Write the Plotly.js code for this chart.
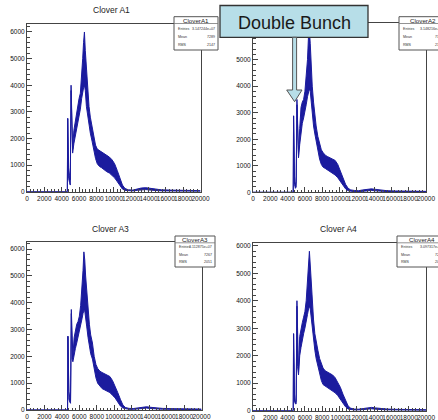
<!DOCTYPE html>
<html>
<head>
<meta charset="utf-8">
<script src="https://cdn.plot.ly/plotly-3.0.1.min.js"></script>
<style>html,body{margin:0;padding:0;background:#fff;}#chart{width:438px;height:420px;}</style>
</head>
<body>
<div id="chart"></div>
<script>
// ---- data ----
const channelX = [0, 4650, 4690, 4740, 4800, 4900, 4990, 5080, 5160, 5260,
  5400, 5550, 5700, 5850, 6000, 6150, 6300, 6420, 6520, 6620,
  6720, 6850, 7000, 7150, 7300, 7500, 7700, 7900, 8100, 8350,
  8600, 8900, 9200, 9500, 9800, 10100, 10400, 10700, 11000, 11300,
  11700, 12200, 12700, 13200, 13700, 14200, 14700, 15500, 16500, 17500,
  18500, 19500, 20000];

const a1Upper = [0, 0, 2750, 1300, 900, 600, 450, 4000, 2300, 1600,
  2300, 2600, 2950, 3300, 3500, 3700, 4300, 5000, 5600, 6000,
  5300, 4600, 3800, 3200, 2800, 2400, 2000, 1750, 1600, 1550,
  1500, 1420, 1350, 1300, 1200, 1050, 800, 500, 250, 120,
  70, 60, 100, 140, 150, 120, 90, 70, 60, 50, 45, 40, 40];
const a1Lower = [0, 0, 2750, 700, 500, 350, 250, 3800, 1900, 1450,
  1800, 2050, 2350, 2650, 2900, 3100, 3500, 3800, 3900, 4000,
  3800, 3200, 2800, 2500, 2200, 1900, 1500, 1250, 1050, 950,
  900, 820, 750, 700, 620, 520, 380, 220, 100, 50,
  30, 25, 50, 70, 80, 60, 45, 30, 25, 20, 15, 15, 15];

const a2Upper = [0, 0, 2880, 1000, 600, 250, 400, 3500, 2000, 1400,
  2400, 3200, 3400, 3500, 3800, 4300, 5000, 5900, 6100, 5600,
  4800, 4000, 3400, 2900, 2500, 2100, 1800, 1600, 1500, 1400,
  1350, 1300, 1250, 1200, 1050, 800, 550, 300, 150, 90,
  70, 60, 90, 120, 130, 110, 80, 60, 50, 45, 40, 35, 35];
const a2Lower = [0, 0, 2880, 500, 300, 150, 200, 3300, 1700, 1300,
  1800, 2300, 2600, 2800, 3000, 3300, 3600, 3800, 3900, 3800,
  3400, 2900, 2500, 2200, 1900, 1500, 1250, 1050, 950, 900,
  850, 800, 720, 650, 550, 400, 250, 130, 60, 40,
  25, 25, 40, 60, 70, 55, 40, 30, 25, 20, 15, 15, 15];

const a3Upper = [0, 0, 2750, 1200, 700, 450, 350, 3750, 2300, 2000,
  2700, 3000, 3200, 3300, 3500, 3900, 4500, 5200, 5900, 5600,
  5000, 4400, 3700, 3200, 2800, 2500, 2000, 1700, 1550, 1450,
  1400, 1350, 1300, 1250, 1100, 900, 650, 400, 180, 90,
  60, 55, 80, 110, 120, 100, 80, 60, 50, 45, 40, 35, 35];
const a3Lower = [0, 0, 2750, 600, 400, 300, 250, 3600, 1900, 1800,
  2100, 2300, 2500, 2700, 2900, 3100, 3400, 3600, 3700, 3700,
  3500, 3100, 2700, 2400, 2100, 1900, 1500, 1200, 1000, 900,
  800, 750, 700, 650, 550, 450, 300, 150, 70, 40,
  25, 25, 40, 60, 70, 55, 40, 30, 25, 20, 15, 15, 15];

const a4Upper = [0, 0, 2800, 1100, 600, 300, 350, 4000, 2000, 1400,
  2700, 3000, 3200, 3400, 3600, 4000, 4600, 5300, 5800, 5300,
  4700, 4000, 3300, 2800, 2500, 2200, 1900, 1700, 1550, 1450,
  1400, 1350, 1300, 1200, 1050, 850, 600, 350, 170, 90,
  60, 55, 80, 110, 120, 100, 80, 60, 50, 45, 40, 35, 35];
const a4Lower = [0, 0, 2800, 500, 350, 250, 250, 3800, 1600, 1300,
  2000, 2300, 2600, 2800, 3000, 3200, 3500, 3700, 3800, 3700,
  3400, 2900, 2500, 2200, 1900, 1600, 1300, 1100, 950, 900,
  850, 800, 720, 650, 550, 420, 280, 140, 60, 40,
  25, 25, 40, 60, 70, 55, 40, 30, 25, 20, 15, 15, 15];

const panelTitles = ['Clover A1', 'Clover A2', 'Clover A3', 'Clover A4'];
const statNames = ['CloverA1', 'CloverA2', 'CloverA3', 'CloverA4'];
const statLabels = ['Entries', 'Mean', 'RMS'];
const statEntries = ['3.147244e+07', '3.148216e+07', '3.112875e+07', '3.097317e+07'];
const statMeans = ['7289', '7303', '7267', '7295'];
const statRMS = ['2147', '2148', '2051', '2046'];
const xTickVals = [0, 2000, 4000, 6000, 8000, 10000, 12000, 14000, 16000, 18000, 20000];
const yTickVals = [0, 1000, 2000, 3000, 4000, 5000, 6000];
const calloutText = 'Double Bunch';

// ---- layout geometry (pixels) ----
const W = 438, H = 420;
const px = x => x / W;
const py = y => 1 - y / H;
const frames = [
  {l: 27, r: 200.5, t: 24, b: 191.7, ymax: 6300},
  {l: 253, r: 426, t: 23.3, b: 192.3, ymax: 6370},
  {l: 27, r: 201.5, t: 241.5, b: 410, ymax: 6287},
  {l: 253, r: 426, t: 243, b: 410.7, ymax: 6100}
];
const statBoxes = [
  {l: 174, r: 218, t: 16.7, b: 50},
  {l: 399, r: 446, t: 16.7, b: 50},
  {l: 175, r: 215, t: 236, b: 267},
  {l: 397, r: 446, t: 236, b: 267}
];
const titlePos = [[111, 10], [322, 10], [110, 229], [338, 229]];

const uppers = [a1Upper, a2Upper, a3Upper, a4Upper];
const lowers = [a1Lower, a2Lower, a3Lower, a4Lower];
const blue = '#1b1b9e';
const font = 'Liberation Sans, Arial, Helvetica, sans-serif';

const data = [];
const layout = {
  width: W, height: H,
  margin: {l: 0, r: 0, t: 0, b: 0},
  paper_bgcolor: '#ffffff', plot_bgcolor: '#ffffff',
  showlegend: false,
  font: {family: font, color: '#111'},
  shapes: [], annotations: []
};

frames.forEach((f, i) => {
  const s = i === 0 ? '' : String(i + 1);
  data.push({x: channelX, y: lowers[i], xaxis: 'x' + s, yaxis: 'y' + s, mode: 'lines',
    line: {color: blue, width: 1}, hoverinfo: 'skip', type: 'scatter'});
  data.push({x: channelX, y: uppers[i], xaxis: 'x' + s, yaxis: 'y' + s, mode: 'lines',
    fill: 'tonexty', fillcolor: blue, line: {color: blue, width: 1}, hoverinfo: 'skip', type: 'scatter'});
  layout['xaxis' + s] = {
    domain: [px(f.l), px(f.r)], anchor: 'y' + s, range: [0, 20000],
    showline: true, mirror: true, linecolor: '#444', linewidth: 1,
    showgrid: false, zeroline: false,
    tickmode: 'array', tickvals: xTickVals, ticktext: xTickVals.map(String),
    ticks: 'inside', ticklen: 5, tickcolor: '#444', tickwidth: 1, tickangle: 0,
    tickfont: {size: 6.5, family: font, color: '#111'},
    minor: {dtick: 400, ticks: 'inside', ticklen: 2.5, tickcolor: '#444', showgrid: false}
  };
  layout['yaxis' + s] = {
    domain: [py(f.b), py(f.t)], anchor: 'x' + s, range: [0, f.ymax],
    showline: true, mirror: true, linecolor: '#444', linewidth: 1,
    showgrid: false, zeroline: false,
    tickmode: 'array', tickvals: yTickVals, ticktext: yTickVals.map(String),
    ticks: 'inside', ticklen: 5, tickcolor: '#444', tickwidth: 1,
    tickfont: {size: 6.5, family: font, color: '#111'},
    minor: {dtick: 200, ticks: 'inside', ticklen: 2.5, tickcolor: '#444', showgrid: false}
  };
  if (i !== 1) {
    layout.annotations.push({xref: 'paper', yref: 'paper', x: px(titlePos[i][0]), y: py(titlePos[i][1]),
      text: panelTitles[i], showarrow: false, xanchor: 'center', yanchor: 'middle',
      font: {size: 8.5, family: font, color: '#222'}});
  }
  // stats box
  const b = statBoxes[i];
  layout.shapes.push({type: 'rect', xref: 'paper', yref: 'paper', x0: px(b.l), x1: px(b.r), y0: py(b.b), y1: py(b.t),
    fillcolor: '#ffffff', line: {color: '#555', width: 1}, layer: 'above'});
  layout.shapes.push({type: 'line', xref: 'paper', yref: 'paper', x0: px(b.l), x1: px(b.r), y0: py(b.t + 6.8), y1: py(b.t + 6.8),
    line: {color: '#777', width: 0.8}, layer: 'above'});
  const cx = (b.l + Math.min(b.r, 440)) / 2;
  layout.annotations.push({xref: 'paper', yref: 'paper', x: px((b.l + b.r) / 2), y: py(b.t + 3.6), text: statNames[i],
    showarrow: false, xanchor: 'center', yanchor: 'middle', font: {size: 6.2, family: font, color: '#222'}});
  const vals = [statEntries[i], statMeans[i], statRMS[i]];
  const rowY = [12.3, 20, 28.3];
  statLabels.forEach((lab, k) => {
    layout.annotations.push({xref: 'paper', yref: 'paper', x: px(b.l + 1.5), y: py(b.t + rowY[k] * (b.b - b.t) / 33.3),
      text: lab, showarrow: false, xanchor: 'left', yanchor: 'middle', font: {size: 3.6, family: font, color: '#333'}});
    layout.annotations.push({xref: 'paper', yref: 'paper', x: px(b.r - 1.5), y: py(b.t + rowY[k] * (b.b - b.t) / 33.3),
      text: vals[k], showarrow: false, xanchor: 'right', yanchor: 'middle', font: {size: 3.6, family: font, color: '#333'}});
  });
});

// ---- callout "Double Bunch" ----
const cyan = '#b7dee8';
layout.shapes.push({type: 'rect', xref: 'paper', yref: 'paper', x0: px(220), x1: px(368), y0: py(37.3), y1: py(5.5),
  fillcolor: cyan, line: {color: '#333', width: 1.3}, layer: 'above'});
const arrowPts = [[292.6, 37.3], [292.6, 90], [286.7, 90], [294.6, 101.7], [302, 90], [296.6, 90], [296.6, 37.3]];
layout.shapes.push({type: 'path', xref: 'paper', yref: 'paper',
  path: 'M ' + arrowPts.map(p => px(p[0]).toFixed(5) + ',' + py(p[1]).toFixed(5)).join(' L ') + ' Z',
  fillcolor: cyan, line: {color: '#555', width: 1}, layer: 'above'});
layout.annotations.push({xref: 'paper', yref: 'paper', x: px(294), y: py(22.5), text: calloutText,
  showarrow: false, xanchor: 'center', yanchor: 'middle', font: {size: 18, family: font, color: '#1a1a1a'}});

Plotly.newPlot('chart', data, layout, {staticPlot: true, displayModeBar: false});
</script>
</body>
</html>
